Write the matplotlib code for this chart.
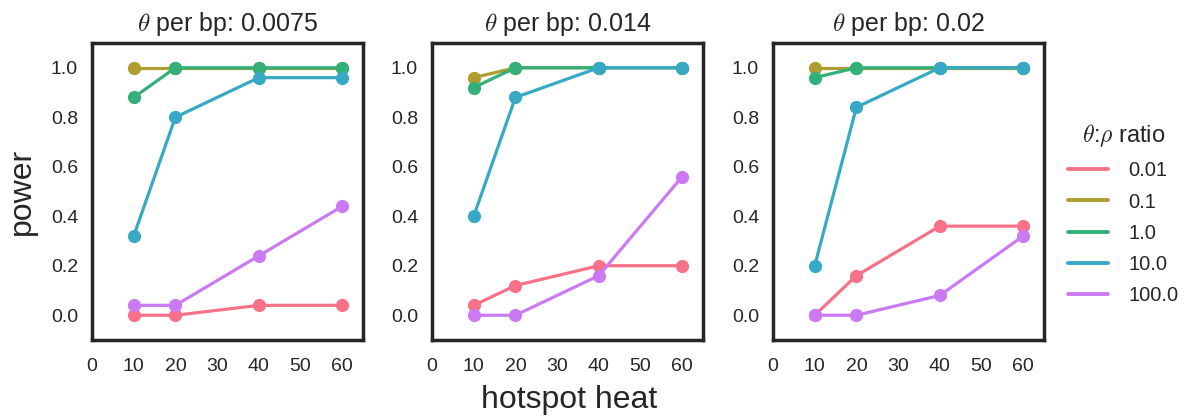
import matplotlib
matplotlib.use("Agg")
import matplotlib.pyplot as plt
from matplotlib.lines import Line2D
import seaborn as sns

sns.set_style("white")
plt.rcParams['font.family'] = ['Arial', 'Liberation Sans', 'DejaVu Sans']
plt.rcParams['mathtext.fontset'] = 'cm'

heat = [10, 20, 40, 60]
thetas = ["0.0075", "0.014", "0.02"]
ratios = ["0.01", "0.1", "1.0", "10.0", "100.0"]

# power per theta:rho ratio at each hotspot heat, one block per theta
power_0075 = [
    [0.00, 0.00, 0.04, 0.04],
    [1.00, 1.00, 1.00, 1.00],
    [0.88, 1.00, 1.00, 1.00],
    [0.32, 0.80, 0.96, 0.96],
    [0.04, 0.04, 0.24, 0.44],
]
power_014 = [
    [0.04, 0.12, 0.20, 0.20],
    [0.96, 1.00, 1.00, 1.00],
    [0.92, 1.00, 1.00, 1.00],
    [0.40, 0.88, 1.00, 1.00],
    [0.00, 0.00, 0.16, 0.56],
]
power_02 = [
    [0.00, 0.16, 0.36, 0.36],
    [1.00, 1.00, 1.00, 1.00],
    [0.96, 1.00, 1.00, 1.00],
    [0.20, 0.84, 1.00, 1.00],
    [0.00, 0.00, 0.08, 0.32],
]
panels = [power_0075, power_014, power_02]

colors = sns.color_palette("husl", 5)

fig = plt.figure(figsize=(11.84, 4.19), dpi=100)
lefts = [92, 432, 773]
axes = []
for i, left in enumerate(lefts):
    ax = fig.add_axes([left / 1184, 1 - 340 / 419, 271 / 1184, 297 / 419])
    axes.append(ax)
    for j, ratio in enumerate(ratios):
        ax.plot(heat, panels[i][j], color=colors[j], lw=2.3, marker='o',
                markersize=8.5, label=ratio)
    ax.set_xlim(0, 65)
    ax.set_ylim(-0.1, 1.1)
    ax.set_xticks([0, 10, 20, 30, 40, 50, 60])
    ax.set_yticks([0.0, 0.2, 0.4, 0.6, 0.8, 1.0])
    ax.tick_params(axis='x', labelsize=14, length=0, pad=13, labelcolor="#262626")
    ax.tick_params(axis='y', labelsize=14, length=0, pad=10, labelcolor="#262626")
    for s in ax.spines.values():
        s.set_color("#262626")
        s.set_linewidth(2.5)
    ax.set_title(r"$\theta$ per bp: " + thetas[i], fontsize=18, pad=9, color="#262626")

axes[0].set_ylabel("power", fontsize=23, labelpad=10, color="#262626")
fig.text(569 / 1184, 1 - 400 / 419, "hotspot heat", fontsize=23, ha="center", va="center",
         color="#262626")

handles = [Line2D([], [], color=c, lw=2.8) for c in colors]
leg = fig.legend(handles, ratios, loc="center left", bbox_to_anchor=(1050 / 1184, 0.49),
                 frameon=False, fontsize=14.5, title=r"$\theta$:$\rho$ ratio",
                 title_fontsize=17, handlelength=2.0, handletextpad=1.0,
                 labelspacing=0.6)
for t in leg.get_texts():
    t.set_color("#262626")
leg.get_title().set_color("#262626")

fig.savefig("out.png", dpi=100)
